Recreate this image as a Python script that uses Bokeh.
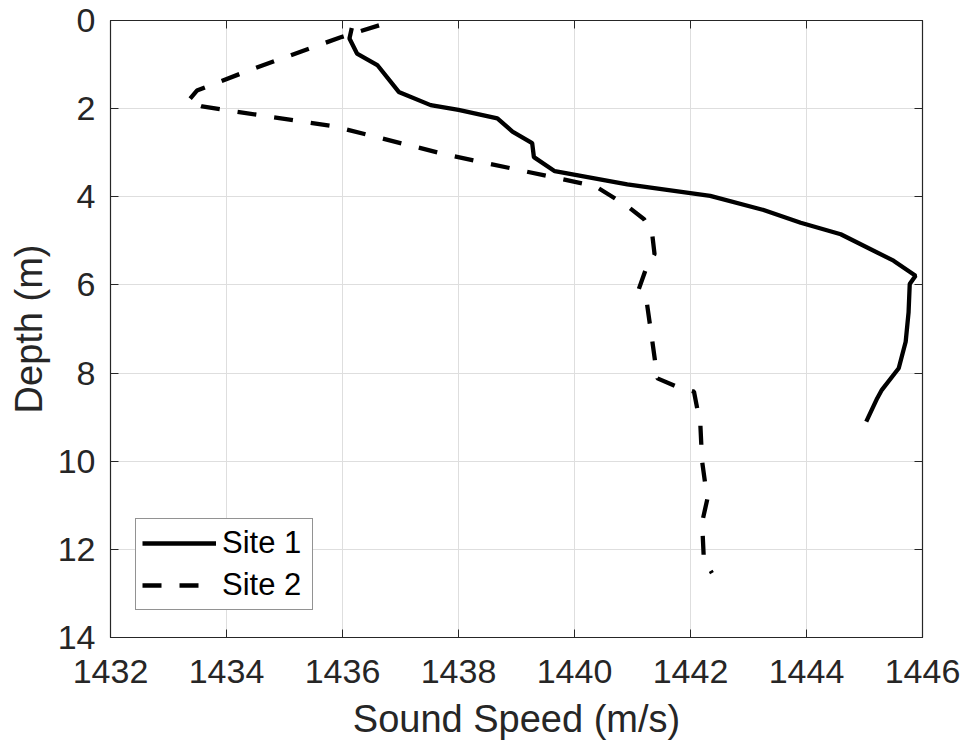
from bokeh.plotting import figure
from bokeh.models import (Range1d, LinearAxis, FixedTicker, Legend, LegendItem,
                          CustomJSTickFormatter)
from bokeh.embed import file_html
from bokeh.resources import INLINE

# ---- data ----
site1_speed = [1436.16, 1436.12, 1436.25, 1436.60, 1436.97, 1437.52, 1438.00, 1438.67,
               1438.93, 1439.27, 1439.30, 1439.66, 1440.91, 1442.34, 1443.26, 1443.90,
               1444.59, 1445.50, 1445.88, 1445.78, 1445.76, 1445.71, 1445.59, 1445.30,
               1445.22, 1445.03]
site1_depth = [0.17, 0.41, 0.75, 1.01, 1.62, 1.92, 2.03, 2.22, 2.52, 2.78, 3.10, 3.42,
               3.72, 3.98, 4.30, 4.59, 4.85, 5.45, 5.79, 5.98, 6.62, 7.29, 7.89, 8.38,
               8.57, 9.10]

site2_speed = [1436.63, 1435.97, 1434.47, 1433.49, 1433.33, 1433.58, 1435.85, 1437.78,
               1440.36, 1440.91, 1441.20, 1441.34, 1441.38, 1441.22, 1441.11, 1441.25,
               1441.34, 1441.43, 1441.77, 1442.06, 1442.17, 1442.20, 1442.29, 1442.20,
               1442.23, 1442.37]
site2_depth = [0.11, 0.38, 1.09, 1.59, 1.84, 1.95, 2.40, 3.04, 3.76, 4.21, 4.51, 4.85,
               5.30, 5.68, 6.09, 6.43, 7.26, 8.12, 8.31, 8.42, 9.17, 10.00, 10.86, 11.39,
               12.22, 12.54]

x_ticks = [1432, 1434, 1436, 1438, 1440, 1442, 1444, 1446]
y_ticks = [0, 2, 4, 6, 8, 10, 12, 14]
series_names = ["Site 1", "Site 2"]

FONT = "Liberation Sans"
TXT = "#262626"

p = figure(width=960, height=744, output_backend="svg", toolbar_location=None,
           x_range=Range1d(1432, 1446), y_range=Range1d(14, 0),
           min_border_left=110, min_border_right=38, min_border_top=20,
           min_border_bottom=107, x_axis_location="below", y_axis_location="left")
p.background_fill_color = "white"
p.border_fill_color = "white"
p.outline_line_color = TXT
p.outline_line_width = 1.2

for ax, ticks in ((p.xaxis[0], x_ticks), (p.yaxis[0], y_ticks)):
    ax.ticker = FixedTicker(ticks=ticks)
    ax.major_tick_in = 8
    ax.major_tick_out = 0
    ax.minor_tick_line_color = None
    ax.axis_line_color = TXT
    ax.major_tick_line_color = TXT
    ax.major_label_text_font = FONT
    ax.major_label_text_font_size = "34px"
    ax.major_label_text_color = TXT
    ax.axis_label_text_font = FONT
    ax.axis_label_text_font_size = "38px"
    ax.axis_label_text_font_style = "normal"
    ax.axis_label_text_color = TXT

p.xaxis[0].axis_label = "Sound Speed (m/s)"
p.yaxis[0].axis_label = "Depth (m)"
p.xaxis[0].major_label_standoff = 22
p.xaxis[0].axis_label_standoff = 12
p.yaxis[0].major_label_standoff = 15
p.yaxis[0].axis_label_standoff = 5

# mirrored inward ticks on top and right (box on)
blank = CustomJSTickFormatter(code="return ''")
for loc, ticks in (("above", x_ticks), ("right", y_ticks)):
    ax = LinearAxis(ticker=FixedTicker(ticks=ticks), formatter=blank,
                    major_tick_in=8, major_tick_out=0, minor_tick_line_color=None,
                    axis_line_color=TXT, major_tick_line_color=TXT,
                    major_label_standoff=0, major_label_text_font_size="10px")
    p.add_layout(ax, loc)

p.xgrid.ticker = FixedTicker(ticks=x_ticks)
p.ygrid.ticker = FixedTicker(ticks=y_ticks)
p.grid.grid_line_color = "#dedede"
p.grid.grid_line_width = 1

r1 = p.line(site1_speed, site1_depth, line_color="black", line_width=4.3)
r2 = p.line(site2_speed, site2_depth, line_color="black", line_width=4.3,
            line_dash="19 18")

legend = Legend(items=[LegendItem(label=series_names[0], renderers=[r1]),
                       LegendItem(label=series_names[1], renderers=[r2])],
                location=(25, 27), orientation="vertical")
legend.label_text_font = FONT
legend.label_text_font_size = "31px"
legend.label_text_color = "black"
legend.glyph_width = 74
legend.glyph_height = 32
legend.label_height = 32
legend.label_width = 84
legend.label_standoff = 6
legend.spacing = 6
legend.padding = 6
legend.margin = 0
legend.border_line_color = TXT
legend.border_line_width = 1.2
legend.background_fill_color = "white"
legend.background_fill_alpha = 1
p.add_layout(legend, "center")

open("out.html", "w").write(file_html(p, INLINE))
